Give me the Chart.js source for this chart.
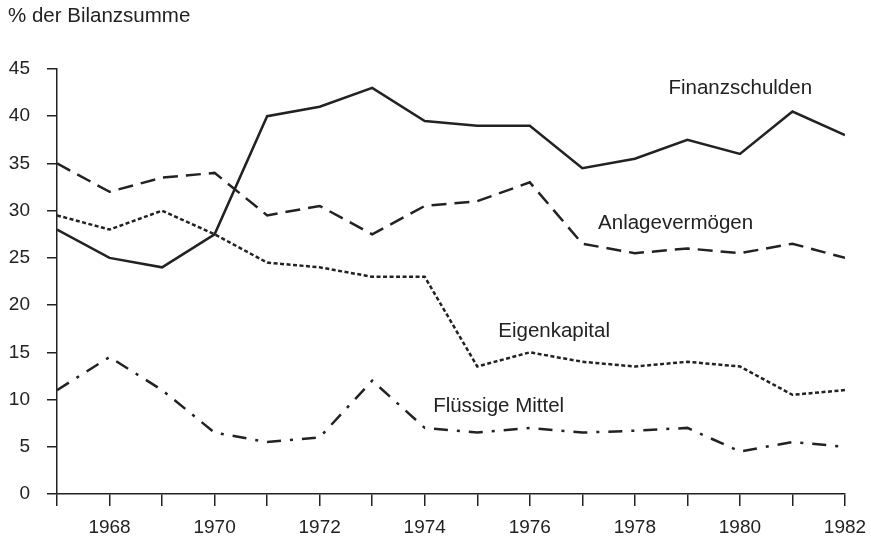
<!DOCTYPE html>
<html>
<head>
<meta charset="utf-8">
<script src="https://cdn.jsdelivr.net/npm/chart.js@4"></script>
<style>
	html, body { margin: 0; padding: 0; background: #fff; }
	#wrap { width: 871px; height: 539px; }
</style>
</head>
<body>
<div id="wrap"><canvas id="chart" width="871" height="539"></canvas></div>
<script>
const years = [1967, 1968, 1969, 1970, 1971, 1972, 1973, 1974, 1975, 1976, 1977, 1978, 1979, 1980, 1981, 1982];
const finanzschulden = [28, 25, 24, 27.5, 40, 41, 43, 39.5, 39, 39, 34.5, 35.5, 37.5, 36, 40.5, 38];
const anlagevermoegen = [35, 32, 33.5, 34, 29.5, 30.5, 27.5, 30.5, 31, 33, 26.5, 25.5, 26, 25.5, 26.5, 25];
const eigenkapital = [29.5, 28, 30, 27.5, 24.5, 24, 23, 23, 13.5, 15, 14, 13.5, 14, 13.5, 10.5, 11];
const fluessigeMittel = [11, 14.5, 11, 6.5, 5.5, 6, 12, 7, 6.5, 7, 6.5, 6.7, 7, 4.5, 5.5, 5];
const yTicks = [0, 5, 10, 15, 20, 25, 30, 35, 40, 45];

const ink = "#222";
const font = "'Liberation Sans', Arial, sans-serif";

// series name, values, dash pattern, label anchor (x in years, y in %)
const series = [
	{name: "Finanzschulden", values: finanzschulden, dash: [], at: [1978.64, 43.0]},
	{name: "Anlagevermögen", values: anlagevermoegen, dash: [15, 8], at: [1977.3, 28.7]},
	{name: "Eigenkapital", values: eigenkapital, dash: [4, 2.5], at: [1975.4, 17.2]},
	{name: "Flüssige Mittel", values: fluessigeMittel, dash: [14, 9, 3, 9], at: [1974.16, 9.25]},
];

const textPlugin = {
	id: "texts",
	afterDraw(chart) {
		const ctx = chart.ctx;
		const x = chart.scales.x, y = chart.scales.y;
		ctx.save();
		ctx.fillStyle = ink;
		ctx.font = "20.5px " + font;
		ctx.textBaseline = "middle";
		ctx.textAlign = "left";
		ctx.fillText("% der Bilanzsumme", 8, 16);
		for (let s of series) {
			ctx.fillText(s.name, x.getPixelForValue(s.at[0]), y.getPixelForValue(s.at[1]));
		}
		ctx.restore();
	}
};

new Chart(document.getElementById("chart").getContext("2d"), {
	type: "line",
	data: {
		datasets: series.map(s => ({
			label: s.name,
			data: years.map((yr, i) => ({x: yr, y: s.values[i]})),
			borderColor: ink,
			borderWidth: 2.5,
			borderDash: s.dash,
			pointRadius: 0,
			tension: 0,
			fill: false,
		}))
	},
	options: {
		responsive: false,
		animation: false,
		layout: {padding: {top: 69, right: 26, left: 0, bottom: 0}},
		plugins: {legend: {display: false}, tooltip: {enabled: false}},
		scales: {
			x: {
				type: "linear",
				min: 1967,
				max: 1982,
				afterBuildTicks: (axis) => { axis.ticks = years.map(v => ({value: v})); },
				afterFit: (axis) => { axis.height = 45; axis.paddingLeft = 0; axis.paddingRight = 0; },
				grid: {display: true, drawOnChartArea: false, drawTicks: true, tickLength: 12, color: ink, lineWidth: 1.5},
				border: {display: true, color: ink, width: 1.5},
				ticks: {
					color: ink,
					font: {family: font, size: 19},
					padding: 10,
					maxRotation: 0,
					autoSkip: false,
					callback: (v) => v % 2 === 0 ? String(v) : "",
				},
			},
			y: {
				min: 0,
				max: 45,
				afterBuildTicks: (axis) => { axis.ticks = yTicks.map(v => ({value: v})); },
				afterFit: (axis) => { axis.width = 57; axis.paddingTop = 0; axis.paddingBottom = 0; },
				grid: {display: true, drawOnChartArea: false, drawTicks: true, tickLength: 10, color: ink, lineWidth: 1.5},
				border: {display: true, color: ink, width: 1.5},
				ticks: {color: ink, font: {family: font, size: 19}, padding: 17},
			},
		},
	},
	plugins: [textPlugin],
});
</script>
</body>
</html>
